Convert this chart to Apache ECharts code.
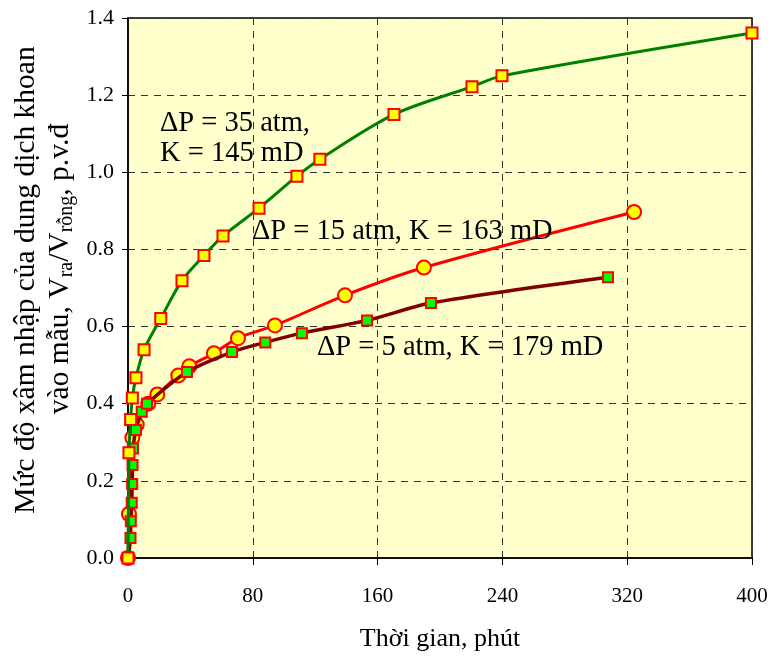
<!DOCTYPE html>
<html>
<head>
<meta charset="utf-8">
<script src="https://cdn.jsdelivr.net/npm/echarts@6/dist/echarts.min.js"></script>
<style>html,body{margin:0;padding:0;background:#fff}#c{width:771px;height:657px}</style>
</head>
<body>
<div id="c"></div>
<script>
// Data: [time (min), penetration (p.v.)]
var series35 = [[0,0],[0.6,0.273],[1.7,0.359],[2.8,0.415],[5.1,0.467],[10.3,0.54],[21,0.621],[34.6,0.719],[48.7,0.784],[60.9,0.835],[84,0.907],[108.3,0.99],[123,1.034],[170.5,1.15],[220.5,1.222],[239.7,1.25],[400,1.361]];
var series15 = [[0,0],[0.6,0.114],[2.8,0.312],[5.6,0.346],[13,0.40],[18.8,0.424],[32.2,0.473],[39.3,0.497],[55.1,0.531],[70.5,0.57],[94.2,0.603],[139.1,0.681],[189.7,0.753],[324.4,0.897]];
var series5 = [[0,0],[1.6,0.052],[1.8,0.095],[2.4,0.143],[2.7,0.192],[2.9,0.241],[3.2,0.284],[5.1,0.332],[8.8,0.379],[12.2,0.4],[37.8,0.482],[66.7,0.534],[88,0.559],[111.5,0.583],[153.2,0.616],[194.2,0.661],[307.7,0.728]];
var xTicks = [0,80,160,240,320,400];
var yTicks = [0,0.2,0.4,0.6,0.8,1.0,1.2,1.4];
var labels = ['ΔP = 35 atm,\nK = 145 mD','ΔP = 15 atm, K = 163 mD','ΔP = 5 atm, K = 179 mD'];
var xTitle = 'Thời gian, phút';
var yTitle1 = 'Mức độ xâm nhập của dung dịch khoan';

var F = '"Liberation Serif","Times New Roman",serif';
var chart = echarts.init(document.getElementById('c'));
var grid = {left:128, right:19, top:18, bottom:96, show:true, backgroundColor:'#FFFFCC', borderColor:'#000', borderWidth:1.5};
var dash = {show:true, lineStyle:{color:'#333', type:[7,6], width:1}};
chart.setOption({
  animation:false,
  backgroundColor:'#fff',
  grid:grid,
  xAxis:{type:'value', min:0, max:400, interval:80,
    axisLine:{show:true, onZero:false, lineStyle:{color:'#000', width:1.5}},
    axisTick:{show:true, length:7, lineStyle:{color:'#000'}},
    axisLabel:{color:'#000', fontFamily:F, fontSize:21, margin:28, formatter:function(v){return xTicks.indexOf(v)>=0?String(v):'';}},
    splitLine:dash,
    name:xTitle, nameLocation:'middle', nameGap:68,
    nameTextStyle:{color:'#000', fontFamily:F, fontSize:26}
  },
  yAxis:{type:'value', min:0, max:1.4, interval:0.2,
    axisLine:{show:true, lineStyle:{color:'#000', width:1.5}},
    axisTick:{show:true, length:6, lineStyle:{color:'#000'}},
    axisLabel:{color:'#000', fontFamily:F, fontSize:22, margin:14, formatter:function(v){return v.toFixed(1);}},
    splitLine:dash
  },
  series:[
    {type:'line', data:series15, smooth:0.3, symbol:'circle', symbolSize:14,
      lineStyle:{color:'#FF0000', width:3}, itemStyle:{color:'#FFFF00', borderColor:'#FF0000', borderWidth:2}, z:3},
    {type:'line', data:series5, smooth:0.3, symbol:'rect', symbolSize:10,
      lineStyle:{color:'#800000', width:3.5}, itemStyle:{color:'#00FF00', borderColor:'#FF0000', borderWidth:2}, z:4},
    {type:'line', data:series35, smooth:0.3, symbol:'rect', symbolSize:11,
      lineStyle:{color:'#008000', width:3}, itemStyle:{color:'#FFFF00', borderColor:'#FF0000', borderWidth:2}, z:5}
  ],
  graphic:[
    {type:'text', x:26, y:280, rotation:Math.PI/2, z:10,
      style:{text:yTitle1, align:'center', verticalAlign:'middle', fill:'#000', font:'29.5px '+F}},
    {type:'text', x:60, y:269, rotation:Math.PI/2, z:10,
      style:{text:'{a|vào mẫu, V}{s|ra}{a|/V}{s|rỗng}{a|, p.v.đ}',
        align:'center', verticalAlign:'middle', fill:'#000',
        rich:{a:{fontFamily:F, fontSize:29.5, lineHeight:34, fill:'#000'},
              s:{fontFamily:F, fontSize:20, lineHeight:17, verticalAlign:'bottom', fill:'#000'}}}},
    {type:'text', left:160, top:109, z:10, style:{text:labels[0], font:'28.5px '+F, fill:'#000', lineHeight:30}},
    {type:'text', left:252, top:217, z:10, style:{text:labels[1], font:'28.5px '+F, fill:'#000', lineHeight:30}},
    {type:'text', left:317, top:333, z:10, style:{text:labels[2], font:'28.5px '+F, fill:'#000', lineHeight:30}}
  ]
});
</script>
</body>
</html>
